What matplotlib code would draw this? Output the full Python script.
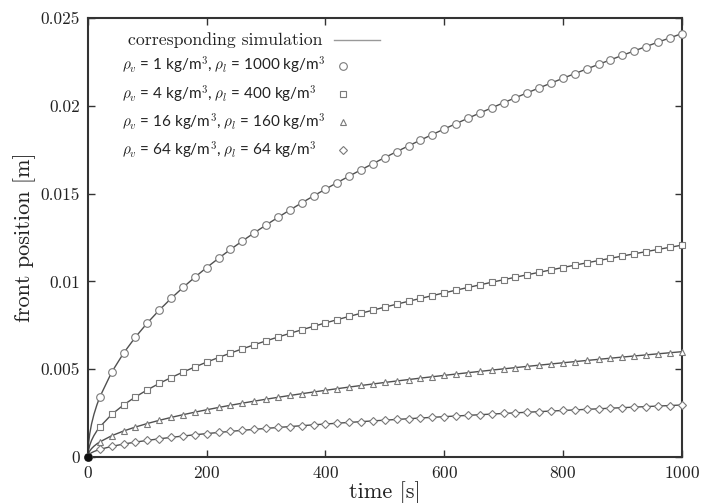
import matplotlib
matplotlib.use("Agg")
import matplotlib.pyplot as plt
from matplotlib.ticker import FuncFormatter
from matplotlib.legend_handler import HandlerLine2D
from matplotlib.lines import Line2D

plt.rcParams['mathtext.fontset'] = 'cm'
plt.rcParams['axes.formatter.use_mathtext'] = True

# sampled times (markers every 20 s) and a few extra early times for the line
t = list(range(0, 1001, 20))
t_early = [0, 1, 3, 6, 10, 15]

# front position [m]
pos_1000 = [0, 0.003412, 0.004825, 0.005910, 0.006824, 0.007630, 0.008358, 0.009027, 0.009650,
            0.010236, 0.010790, 0.011316, 0.011820, 0.012302, 0.012767, 0.013215, 0.013648,
            0.014068, 0.014476, 0.014873, 0.015259, 0.015636, 0.016004, 0.016364, 0.016715,
            0.017060, 0.017398, 0.017729, 0.018055, 0.018374, 0.018688, 0.018997, 0.019301,
            0.019600, 0.019895, 0.020186, 0.020472, 0.020754, 0.021033, 0.021308, 0.021580,
            0.021847, 0.022112, 0.022374, 0.022633, 0.022888, 0.023141, 0.023391, 0.023639,
            0.023884, 0.024126]
pos_400 = [0, 0.001706, 0.002413, 0.002955, 0.003412, 0.003815, 0.004179, 0.004514, 0.004825,
           0.005118, 0.005395, 0.005658, 0.005910, 0.006151, 0.006383, 0.006607, 0.006824,
           0.007034, 0.007238, 0.007436, 0.007629, 0.007818, 0.008002, 0.008182, 0.008358,
           0.008530, 0.008699, 0.008865, 0.009027, 0.009187, 0.009344, 0.009499, 0.009651,
           0.009800, 0.009948, 0.010093, 0.010236, 0.010377, 0.010517, 0.010654, 0.010790,
           0.010924, 0.011056, 0.011187, 0.011316, 0.011444, 0.011571, 0.011696, 0.011820,
           0.011942, 0.012063]
pos_160 = [0, 0.000847, 0.001198, 0.001467, 0.001694, 0.001894, 0.002075, 0.002241, 0.002396,
           0.002541, 0.002678, 0.002809, 0.002934, 0.003054, 0.003169, 0.003280, 0.003388,
           0.003492, 0.003594, 0.003692, 0.003788, 0.003881, 0.003973, 0.004062, 0.004149,
           0.004235, 0.004319, 0.004401, 0.004482, 0.004561, 0.004639, 0.004716, 0.004791,
           0.004866, 0.004939, 0.005011, 0.005082, 0.005152, 0.005221, 0.005290, 0.005357,
           0.005423, 0.005489, 0.005554, 0.005618, 0.005682, 0.005745, 0.005807, 0.005868,
           0.005929, 0.005989]
pos_64 = [0, 0.000417, 0.000590, 0.000722, 0.000834, 0.000932, 0.001021, 0.001103, 0.001179,
          0.001251, 0.001319, 0.001383, 0.001445, 0.001504, 0.001560, 0.001615, 0.001668,
          0.001719, 0.001769, 0.001818, 0.001865, 0.001911, 0.001956, 0.002000, 0.002043,
          0.002085, 0.002126, 0.002167, 0.002207, 0.002246, 0.002284, 0.002322, 0.002359,
          0.002395, 0.002432, 0.002467, 0.002502, 0.002537, 0.002571, 0.002604, 0.002637,
          0.002670, 0.002702, 0.002734, 0.002766, 0.002797, 0.002828, 0.002859, 0.002889,
          0.002919, 0.002949]

# early part of the simulation lines (t_early)
early_1000 = [0, 0.000763, 0.001321, 0.001869, 0.002413, 0.002955]
early_400 = [0, 0.000381, 0.000661, 0.000934, 0.001206, 0.001477]
early_160 = [0, 0.000189, 0.000328, 0.000464, 0.000599, 0.000734]
early_64 = [0, 0.0000932, 0.000162, 0.000228, 0.000295, 0.000361]

labels = [r'$\rho_v$ = 1 kg/m$^3$, $\rho_l$ = 1000 kg/m$^3$',
          r'$\rho_v$ = 4 kg/m$^3$, $\rho_l$ = 400 kg/m$^3$',
          r'$\rho_v$ = 16 kg/m$^3$, $\rho_l$ = 160 kg/m$^3$',
          r'$\rho_v$ = 64 kg/m$^3$, $\rho_l$ = 64 kg/m$^3$']
markers = ['o', 's', '^', 'D']
msizes = [5.5, 5, 5, 4]

xticks = [0, 200, 400, 600, 800, 1000]
yticks = [0, 0.005, 0.01, 0.015, 0.02, 0.025]

line_col = '#505050'
mark_col = '#7a7a7a'
axis_col = '#333333'

fig = plt.figure(figsize=(7.05, 5.03), dpi=100)
ax = fig.add_axes([0.1248, 0.092, 0.8422, 0.8716])

series = [(pos_1000, early_1000), (pos_400, early_400), (pos_160, early_160), (pos_64, early_64)]
for (pos, early), m, ms in zip(series, markers, msizes):
    ax.plot(t_early + t[1:], early + pos[1:], color=line_col, lw=1.0, zorder=2)
    ax.plot(t, pos, ls='none', marker=m, ms=ms, mfc='white', mec=mark_col, mew=0.8,
            clip_on=False, zorder=3)
ax.plot([0], [0], ls='none', marker='o', ms=5, color='#111111', clip_on=False, zorder=4)

ax.set_xlim(0, 1000)
ax.set_ylim(0, 0.025)
ax.set_xticks(xticks)
ax.set_yticks(yticks)
ax.yaxis.set_major_formatter(FuncFormatter(lambda v, p: '%g' % v))
ax.tick_params(direction='in', length=5, width=1, top=True, right=True,
               colors=axis_col, labelcolor='#222222', labelsize=12.5, pad=6)
for lab in ax.get_xticklabels() + ax.get_yticklabels():
    lab.set_family('cmr10')
for s in ax.spines.values():
    s.set_color(axis_col)
    s.set_linewidth(1.5)

ax.set_xlabel('time [s]', family='cmr10', fontsize=16, color='#222222', labelpad=0)
ax.set_ylabel('front position [m]', family='cmr10', fontsize=16, color='#222222', labelpad=3)


# legend: text column on the left, keys in a fixed column to its right (points)
class RightKey(HandlerLine2D):
    def __init__(self, x0, x1):
        super().__init__()
        self.x0, self.x1 = x0, x1

    def get_xdata(self, legend, xdescent, ydescent, width, height, fontsize):
        return [self.x0, self.x1], [(self.x0 + self.x1) / 2]


handles = [Line2D([], [], color='#999999', lw=1.0)]
for m, ms in zip(markers, msizes):
    handles.append(Line2D([], [], ls='none', marker=m, ms=ms, mfc='white', mec=mark_col, mew=0.8))
hmap = {handles[0]: RightKey(153, 186)}
for h in handles[1:]:
    hmap[h] = RightKey(159, 159)
leg = ax.legend(handles, [' corresponding simulation'] + labels, loc='upper left',
                bbox_to_anchor=(0.057, 0.968), frameon=False, markerfirst=True,
                handlelength=0, handletextpad=0, borderpad=0, borderaxespad=0,
                labelspacing=0.46, prop={'family': 'Lato', 'size': 11},
                handler_map=hmap)
texts = leg.get_texts()
texts[0].set_family('cmr10')
texts[0].set_fontsize(12.8)
for tx in texts:
    tx.set_color('#222222')

fig.savefig('out.png', dpi=100)
